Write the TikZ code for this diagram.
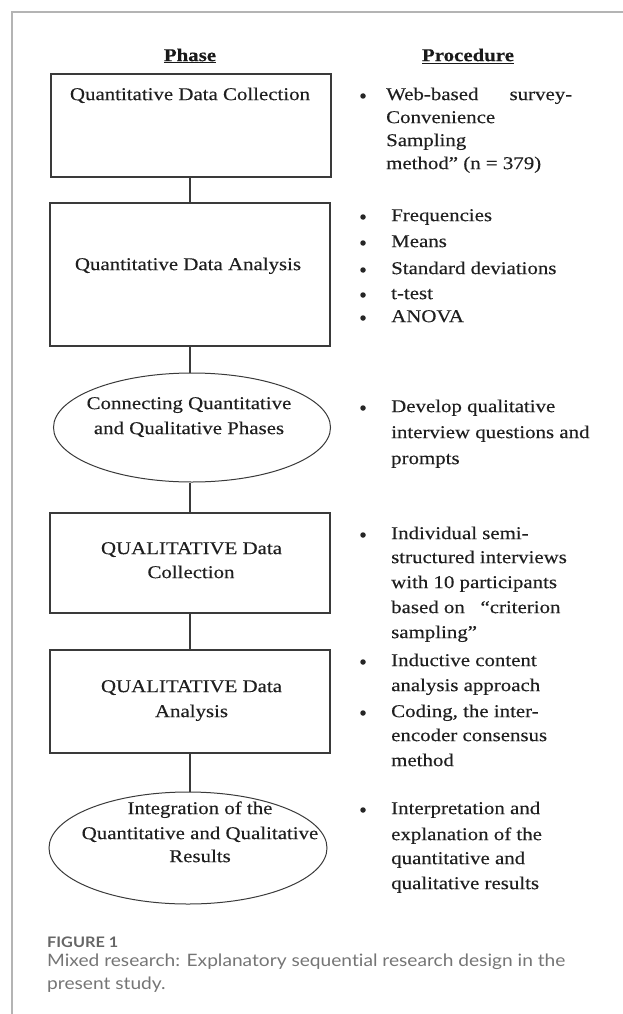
\documentclass[tikz,border=0pt]{standalone}
\usepackage{fontspec}
\setmainfont{Liberation Serif}[FakeStretch=1.16, FakeBold=0.35]
\newfontfamily\capfont{Lato}[FakeStretch=1.12, Ligatures=CommonOff]
\usetikzlibrary{shapes.geometric}
\definecolor{framegray}{HTML}{B4B4B4}
\definecolor{linegray}{HTML}{3A3A3A}
\definecolor{capgray}{HTML}{757575}
\definecolor{capdark}{HTML}{666666}
\begin{document}
\begin{tikzpicture}[x=1pt,y=-1pt,
  txt/.style={font=\fontsize{18}{22}\selectfont, inner sep=0pt, text=black!88, anchor=base, yshift=-4.1pt},
  ltxt/.style={txt, anchor=base west},
  hdr/.style={font=\fontsize{18}{22}\selectfont\bfseries, inner sep=0pt, text=black!90, anchor=base, yshift=-4.1pt},
  phasebox/.style={draw=linegray, line width=1.3pt, rectangle, minimum width=280pt, inner sep=0pt},
  phaseoval/.style={draw=linegray, line width=1pt, ellipse, inner sep=0pt},
  link/.style={draw=linegray, line width=1.3pt},
  bul/.style={fill=black!85, circle, inner sep=0pt, minimum size=5.5pt},
  captext/.style={font=\capfont\fontsize{17.1}{20}\selectfont, inner sep=0pt, text=capgray, anchor=base west, yshift=-4.3pt}
]
\useasboundingbox (0,0) rectangle (623,1014);
% outer frame (top and left)
\coordinate (fr1) at (623,12);
\coordinate (fr2) at (12,12);
\coordinate (fr3) at (12,1014);
\draw[framegray, line width=1.4pt] (fr1) -- (fr2) -- (fr3);

% headers
\node[hdr] (hphase) at (190,57) {\underline{Phase}};
\node[hdr] (hproc) at (468,57) {\underline{Procedure}};

% phase shapes
\node[phasebox, minimum height=103pt] (b1) at (191,125.5) {};
\node[phasebox, minimum height=143pt] (b2) at (190,274.5) {};
\node[phaseoval, minimum width=277pt, minimum height=109pt] (e1) at (192,427.5) {};
\node[phasebox, minimum height=100pt] (b3) at (190,563) {};
\node[phasebox, minimum height=103pt] (b4) at (190,701.5) {};
\node[phaseoval, minimum width=278pt, minimum height=112pt] (e2) at (188,848) {};

% connectors
\draw[link] (b2.north) -- (b2.north |- b1.south);
\draw[link] (b2.south) -- (b2.south |- e1.north);
\draw[link] (b3.north) -- (b3.north |- e1.south);
\draw[link] (b3.south) -- (b4.north);
\draw[link] (b4.south) -- (b4.south |- e2.north);

% phase texts
\node[txt] (t1) at (190,96) {Quantitative Data Collection};
\node[txt] (t2) at (188,266) {Quantitative Data Analysis};
\node[txt] (t3a) at (189,405) {Connecting Quantitative};
\node[txt] (t3b) at (189,430) {and Qualitative Phases};
\node[txt] (t4a) at (191.5,550) {QUALITATIVE Data};
\node[txt] (t4b) at (191,574) {Collection};
\node[txt] (t5a) at (191.5,688) {QUALITATIVE Data};
\node[txt] (t5b) at (191.5,713) {Analysis};
\node[txt] (t6a) at (200,810) {Integration of the};
\node[txt] (t6b) at (200,835) {Quantitative and Qualitative};
\node[txt] (t6c) at (200,858) {Results};

% bullets
\foreach \y [count=\i] in {96,217,243,270,295,318,408,535,662,713,810}
  \node[bul] (dot\i) at (363,\y) {};

% procedure texts
\node[ltxt] (p1-1) at (386,96) {\makebox[186pt][l]{Web-based\hfill survey-}};
\foreach \y/\t [count=\i from 2] in {119/Convenience, 142/Sampling, 165/{method” (n = 379)}}
  \node[ltxt] (p1-\i) at (386,\y) {\t};
\foreach \y/\t [count=\i] in {217/Frequencies, 243/Means, 270/Standard deviations, 295/t-test, 318/ANOVA}
  \node[ltxt] (p2-\i) at (391,\y) {\t};
\foreach \y/\t [count=\i] in {408/Develop qualitative, 434/interview questions and, 460/prompts}
  \node[ltxt] (p3-\i) at (391,\y) {\t};
\foreach \y/\t [count=\i] in {535/Individual semi-, 559/structured interviews, 584/with 10 participants, 609/{based on \ \ “criterion}, 634/sampling”}
  \node[ltxt] (p4-\i) at (391,\y) {\t};
\foreach \y/\t [count=\i] in {662/Inductive content, 687/analysis approach}
  \node[ltxt] (p5-\i) at (391,\y) {\t};
\foreach \y/\t [count=\i] in {713/{Coding, the inter-}, 737/encoder consensus, 762/method}
  \node[ltxt] (p6-\i) at (391,\y) {\t};
\foreach \y/\t [count=\i] in {810/Interpretation and, 836/explanation of the, 860/quantitative and, 885/qualitative results}
  \node[ltxt] (p7-\i) at (391,\y) {\t};

% caption
\node[captext, text=capdark, font=\capfont\bfseries\fontsize{14.5}{16}\selectfont, yshift=-5.2pt] (figlabel) at (47,938) {FIGURE 1};
\node[captext] (capl1) at (47,962) {Mixed research: Explanatory sequential research design in the};
\node[captext] (capl2) at (47,985) {present study.};
\end{tikzpicture}
\end{document}
